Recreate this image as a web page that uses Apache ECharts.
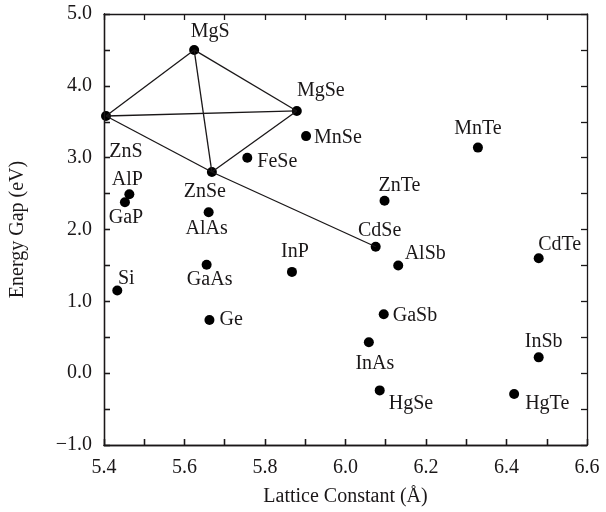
<!DOCTYPE html>
<html>
<head>
<meta charset="utf-8">
<script src="https://cdn.jsdelivr.net/npm/echarts@6/dist/echarts.min.js"></script>
<style>
  html, body { margin: 0; padding: 0; background: #fff; }
  .wrap { position: relative; width: 606px; height: 512px; }
  #chart, #ticks { position: absolute; left: 0; top: 0; width: 606px; height: 512px; }
  #ticks { pointer-events: none; }
</style>
</head>
<body>
<div class="wrap">
  <div id="chart"></div>
  <div id="ticks"></div>
</div>
<script>
// compounds: lattice constant (Å) and energy gap (eV)
const names = ['MgS', 'ZnS', 'MgSe', 'ZnSe', 'FeSe', 'MnSe', 'AlP', 'GaP', 'AlAs', 'GaAs', 'InP', 'Si', 'Ge',
  'MnTe', 'ZnTe', 'CdSe', 'AlSb', 'CdTe', 'GaSb', 'InAs', 'HgSe', 'InSb', 'HgTe']
const lattice = [5.624, 5.405, 5.879, 5.668, 5.756, 5.902, 5.463, 5.452, 5.660, 5.655, 5.867, 5.433, 5.662,
  6.329, 6.097, 6.075, 6.131, 6.480, 6.095, 6.058, 6.085, 6.480, 6.419]
const gap = [4.50, 3.58, 3.65, 2.80, 3.00, 3.30, 2.49, 2.38, 2.24, 1.51, 1.41, 1.15, 0.74,
  3.14, 2.40, 1.76, 1.50, 1.60, 0.82, 0.43, -0.24, 0.22, -0.29]
// alloy tie lines between compounds
const edges = [['ZnS', 'MgS'], ['MgS', 'MgSe'], ['MgSe', 'ZnSe'], ['ZnSe', 'ZnS'],
  ['ZnS', 'MgSe'], ['MgS', 'ZnSe'], ['ZnSe', 'CdSe']]

// label placement: [position, dx, dy]
const labelPlace = {
  MgS: ['top', 16, 2], ZnS: ['bottom', 20, 16], MgSe: ['top', 24, 0], ZnSe: ['bottom', -7, 0],
  FeSe: ['right', 0, 4], MnSe: ['right', -2, 2], AlP: ['top', -2, 5], GaP: ['bottom', 1, -4],
  AlAs: ['bottom', -2, -4], GaAs: ['bottom', 3, -5], InP: ['top', 3, 0], Si: ['top', 9, 8],
  Ge: ['right', 0, 0], MnTe: ['top', 0, 1], ZnTe: ['top', 15, 5], CdSe: ['top', 4, 4],
  AlSb: ['top', 27, 8], CdTe: ['top', 21, 7], GaSb: ['right', -1, 1], InAs: ['bottom', 6, 1],
  HgSe: ['right', -1, 13], InSb: ['top', 5, 4], HgTe: ['right', 1, 10]
}

const font = 'Liberation Serif'
const ink = '#1a1718'
const fmt = v => v.toFixed(1).replace('-', '\u2212')
const grid = { left: 104, right: 19, top: 14, bottom: 67 }

const pt = n => { const i = names.indexOf(n); return [lattice[i], gap[i]] }

function axisBase() {
  return {
    type: 'value',
    axisLine: { show: true, onZero: false, lineStyle: { color: ink, width: 1.3 } },
    axisTick: { show: true, inside: true, length: 6, lineStyle: { color: ink, width: 1.3 } },
    minorTick: { show: true, splitNumber: 2, length: 6, lineStyle: { color: ink, width: 1.3 } },
    splitLine: { show: false },
    axisLabel: { show: true, color: ink, fontFamily: font, fontSize: 20, formatter: fmt }
  }
}

// main chart: labels, names, points and tie lines
const chart = echarts.init(document.getElementById('chart'))

const xBottom = Object.assign(axisBase(), {
  min: 5.4, max: 6.6, interval: 0.2, position: 'bottom',
  name: 'Lattice Constant (Å)', nameLocation: 'middle', nameGap: 42,
  nameTextStyle: { color: ink, fontFamily: font, fontSize: 20 }
})
xBottom.axisLabel.margin = 13
const yLeft = Object.assign(axisBase(), {
  min: -1, max: 5, interval: 1, position: 'left',
  name: 'Energy Gap (eV)', nameLocation: 'middle', nameGap: 76,
  nameTextStyle: { color: ink, fontFamily: font, fontSize: 20 }
})
yLeft.axisLabel.margin = 12

chart.setOption({
  animation: false,
  backgroundColor: '#fff',
  grid: grid,
  xAxis: [xBottom],
  yAxis: [yLeft],
  series: [{
    type: 'scatter',
    symbolSize: 10,
    itemStyle: { color: '#000', opacity: 1 },
    data: names.map((n, i) => {
      const p = labelPlace[n]
      return {
        name: n,
        value: [lattice[i], gap[i]],
        label: {
          show: true, formatter: n, position: p[0], offset: [p[1], p[2]],
          color: ink, fontFamily: font, fontSize: 20
        }
      }
    }),
    markLine: {
      silent: true,
      animation: false,
      symbol: ['none', 'none'],
      label: { show: false },
      lineStyle: { color: ink, width: 1.3, type: 'solid' },
      emphasis: { disabled: true },
      data: edges.map(e => [{ coord: pt(e[0]) }, { coord: pt(e[1]) }])
    }
  }]
})

// overlay: frame with inward ticks on all four sides
const frame = echarts.init(document.getElementById('ticks'))
const tickAxis = (pos, min, max, interval) => Object.assign(axisBase(), {
  min: min, max: max, interval: interval, position: pos, axisLabel: { show: false }
})
frame.setOption({
  animation: false,
  grid: grid,
  xAxis: [tickAxis('bottom', 5.4, 6.6, 0.2), tickAxis('top', 5.4, 6.6, 0.2)],
  yAxis: [tickAxis('left', -1, 5, 1), tickAxis('right', -1, 5, 1)],
  series: [{ type: 'scatter', data: [], silent: true }]
})
</script>
</body>
</html>
